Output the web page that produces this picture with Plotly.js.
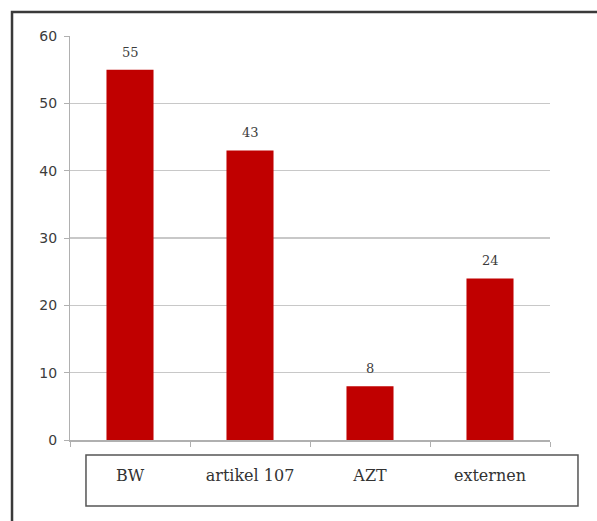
<!DOCTYPE html>
<html>
<head>
<meta charset="utf-8">
<script src="https://cdn.plot.ly/plotly-3.0.1.min.js"></script>
<style>
  html, body { margin: 0; padding: 0; background: #ffffff; }
  #chart { width: 597px; height: 521px; }
</style>
</head>
<body>
<div id="chart"></div>
<script>
// Counts per group
const categories = ["BW", "artikel 107", "AZT", "externen"];
const counts = [55, 43, 8, 24];
const yTicks = [0, 10, 20, 30, 40, 50, 60];

const serif = "DejaVu Serif, Liberation Serif, serif";
const sans = "DejaVu Sans, Liberation Sans, sans-serif";

const trace = {
  type: "bar",
  x: categories,
  y: counts,
  marker: { color: "#c00000", line: { width: 0 } },
  hoverinfo: "skip"
};

// value labels sit a little above each bar
const valueLabels = categories.map((c, i) => ({
  x: c,
  y: counts[i],
  xref: "x",
  yref: "y",
  text: String(counts[i]),
  showarrow: false,
  yanchor: "bottom",
  yshift: 8,
  font: { family: serif, size: 13, color: "#3c3c3c" }
}));

const layout = {
  width: 597,
  height: 521,
  margin: { l: 70, r: 47, t: 36, b: 81 },
  paper_bgcolor: "#ffffff",
  plot_bgcolor: "#ffffff",
  bargap: 0.608,
  showlegend: false,
  font: { family: serif, color: "#3c3c3c" },
  xaxis: {
    type: "category",
    tickson: "boundaries",
    ticks: "outside",
    ticklen: 5,
    tickcolor: "#b0b0b0",
    tickwidth: 1,
    showline: true,
    linecolor: "#b0b0b0",
    linewidth: 1.5,
    showgrid: false,
    ticklabelstandoff: 20,
    tickfont: { family: serif, size: 16, color: "#333333" }
  },
  yaxis: {
    range: [0, 60],
    tickvals: yTicks,
    ticks: "outside",
    ticklen: 5,
    tickcolor: "#b0b0b0",
    showline: true,
    linecolor: "#b0b0b0",
    linewidth: 1,
    showgrid: true,
    gridcolor: "#c8c8c8",
    gridwidth: 1.5,
    zeroline: false,
    ticklabelstandoff: 4,
    tickfont: { family: sans, size: 14, color: "#3c3c3c" }
  },
  annotations: valueLabels,
  shapes: [
    // outer frame
    { type: "rect", xref: "paper", yref: "paper",
      x0: -0.1208, x1: 1.12, y0: -0.22, y1: 1.0594,
      line: { color: "#3a3a3a", width: 2.5 }, layer: "below" },
    // box around the category labels
    { type: "rect", xref: "paper", yref: "paper",
      x0: 0.0333, x1: 1.0583, y0: -0.1634, y1: -0.0371,
      line: { color: "#555555", width: 1.5 } }
  ]
};

Plotly.newPlot("chart", [trace], layout, { displayModeBar: false, staticPlot: true });
</script>
</body>
</html>
